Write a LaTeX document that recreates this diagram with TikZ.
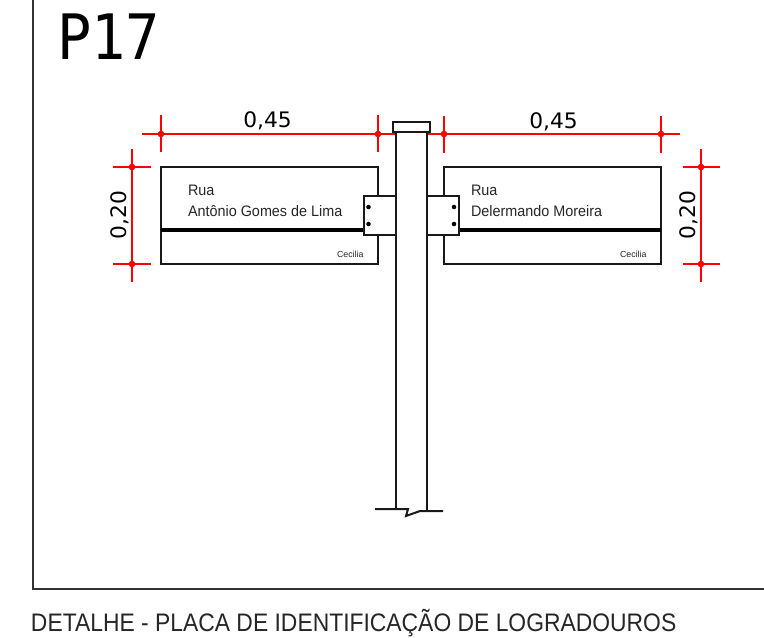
\documentclass[tikz,border=0pt]{standalone}
\usepackage{fontspec}
\setmainfont{Liberation Sans}
\newfontfamily\monofam{DejaVu Sans Mono}
\newfontfamily\dimfam{DejaVu Sans}
\definecolor{dimred}{RGB}{255,0,0}
\tikzset{
  px/.style={x=0.75pt,y=-0.75pt},
  outline/.style={draw=black!90,line width=1.5pt,line join=miter},
  bar/.style={draw=black,line width=3pt},
  frameline/.style={draw=black!80,line width=1.5pt},
  dimline/.style={draw=dimred,line width=1.5pt},
  lbl/.style={anchor=base west,inner sep=0pt,outer sep=0pt,text=black!85},
  dimlbl/.style={anchor=base,inner sep=0pt,outer sep=0pt,text=black},
  dotmark/.style={circle,fill=black,inner sep=0pt,minimum size=3.4pt},
  reddot/.style={circle,fill=dimred,inner sep=0pt,minimum size=5pt},
}
\newcommand{\signtext}[1]{\scalebox{0.947}[1]{\fontsize{11.4pt}{13pt}\selectfont #1}}
\newcommand{\smalltext}[1]{\scalebox{1.0}[1]{\fontsize{6.6pt}{8pt}\selectfont #1}}
\newcommand{\dimtext}[1]{\scalebox{1.02}[1]{\dimfam\fontsize{16pt}{18pt}\selectfont #1}}
\begin{document}
\begin{tikzpicture}[px]
\useasboundingbox (0,0) rectangle (764,637);
% frame
\draw[frameline] (33,0) -- (33,589) -- (764,589);
% title
\node[anchor=base west,inner sep=0pt] (p17) at (57,59) {\scalebox{0.91}[1]{\monofam\fontsize{47pt}{50pt}\selectfont P17}};
\node[lbl] (title) at (31,631) {\scalebox{0.903}[1]{\fontsize{19pt}{21pt}\selectfont DETALHE - PLACA DE IDENTIFICAÇÃO DE LOGRADOUROS}};
% left plate
\draw[outline] (161,167) rectangle (378,264);
\draw[bar] (161,230) -- (364,230);
% right plate
\draw[outline] (444,167) rectangle (661,264);
\draw[bar] (459,230) -- (661,230);
% clamps
\draw[outline,fill=white] (364,196) rectangle (396,235);
\draw[outline,fill=white] (427,196) rectangle (459,235);
\node[dotmark] (dl1) at (368.5,207) {};
\node[dotmark] (dl2) at (368.5,224) {};
\node[dotmark] (dr1) at (454,207) {};
\node[dotmark] (dr2) at (454,224) {};
% sign text
\node[lbl] (t1) at (188,195) {\signtext{Rua}};
\node[lbl] (t2) at (188,216.5) {\signtext{Antônio Gomes de Lima}};
\node[lbl] (t3) at (337,257) {\smalltext{Cecilia}};
\node[lbl] (t4) at (471,195) {\signtext{Rua}};
\node[lbl] (t5) at (471,216.5) {\signtext{Delermando Moreira}};
\node[lbl] (t6) at (620,257) {\smalltext{Cecilia}};
% dimensions, horizontal
\draw[dimline] (142,134) -- (396,134);
\draw[dimline] (161,115) -- (161,152);
\draw[dimline] (378,115) -- (378,152);
\node[reddot] (a1) at (161,134) {};
\node[reddot] (a2) at (378,134) {};
\node[dimlbl] (d1) at (267.5,127) {\dimtext{0,45}};
\draw[dimline] (427,134) -- (680,134);
\draw[dimline] (444,116) -- (444,153);
\draw[dimline] (661,116) -- (661,153);
\node[reddot] (a3) at (444,134) {};
\node[reddot] (a4) at (661,134) {};
\node[dimlbl] (d2) at (553.5,128) {\dimtext{0,45}};
% dimensions, vertical
\draw[dimline] (132,149) -- (132,282);
\draw[dimline] (113,167) -- (151,167);
\draw[dimline] (113,264) -- (151,264);
\node[reddot] (a5) at (132,167) {};
\node[reddot] (a6) at (132,264) {};
\node[dimlbl,rotate=90] (d3) at (126,215) {\dimtext{0,20}};
\draw[dimline] (701,149) -- (701,282);
\draw[dimline] (683,167) -- (720,167);
\draw[dimline] (683,264) -- (720,264);
\node[reddot] (a7) at (701,167) {};
\node[reddot] (a8) at (701,264) {};
\node[dimlbl,rotate=90] (d4) at (695,215) {\dimtext{0,20}};
% post
\draw[outline] (396,132) -- (396,509);
\draw[outline] (427,132) -- (427,511);
\draw[outline,fill=white] (393,122) rectangle (430,132);
\draw[outline] (375,509) -- (408,509) -- (406,516) -- (420,511) -- (443,511);
\end{tikzpicture}
\end{document}
